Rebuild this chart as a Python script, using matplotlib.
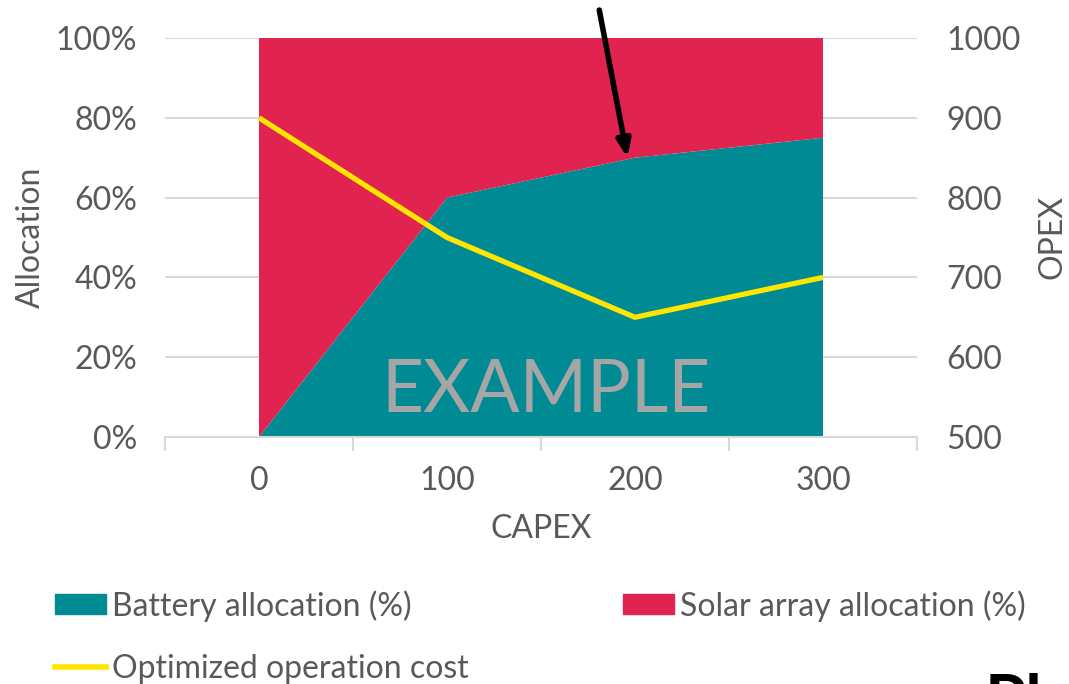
import matplotlib
matplotlib.use("Agg")
import matplotlib.pyplot as plt
from matplotlib.patches import Patch
from matplotlib.lines import Line2D

plt.rcParams['font.family'] = ['Lato', 'DejaVu Sans']

capex = [0, 100, 200, 300]
battery = [0, 60, 70, 75]
solar = [100 - b for b in battery]
opex = [900, 750, 650, 700]

teal = '#008A93'
crimson = '#E0234F'
yellow = '#FFE500'
grey_text = '#595959'
grid_col = '#D9D9D9'
fs = 23

fig = plt.figure(figsize=(10.69, 6.84), dpi=100)
ax = fig.add_axes([165 / 1069, 1 - 437 / 684, 752 / 1069, 399 / 684])
x = list(range(len(capex)))

ax.stackplot(x, battery, solar, colors=[teal, crimson], zorder=2)
ax.set_xlim(-0.5, len(capex) - 0.5)
ax.set_ylim(0, 100)
ax.set_yticks(range(0, 101, 20))
ax.set_yticklabels([f'{v}%' for v in range(0, 101, 20)])
ax.set_xticks(x)
ax.set_xticklabels([str(c) for c in capex])
ax.set_xticks([i - 0.5 for i in range(len(capex) + 1)], minor=True)
ax.tick_params(axis='x', which='major', length=0, pad=21, labelsize=fs, labelcolor=grey_text)
ax.tick_params(axis='x', which='minor', length=10, width=1.5, color=grid_col)
ax.tick_params(axis='y', length=0, pad=20, labelsize=fs, labelcolor=grey_text)
ax.grid(axis='y', color=grid_col, linewidth=1.5, zorder=0)
for s in ['top', 'left', 'right']:
    ax.spines[s].set_visible(False)
ax.spines['bottom'].set_color(grid_col)
ax.spines['bottom'].set_linewidth(1.5)
ax.set_xlabel('CAPEX', fontsize=fs, color=grey_text, labelpad=13)
ax.set_ylabel('Allocation', fontsize=fs, color=grey_text, labelpad=7)

ax2 = ax.twinx()
ax2.plot(x, opex, color=yellow, linewidth=3.8, solid_capstyle='butt', zorder=3)
ax2.set_ylim(500, 1000)
ax2.set_yticks(range(500, 1001, 100))
ax2.tick_params(axis='y', length=0, pad=21, labelsize=fs, labelcolor=grey_text)
for s in ['top', 'left', 'right', 'bottom']:
    ax2.spines[s].set_visible(False)
ax2.set_ylabel('OPEX', fontsize=fs, color=grey_text, rotation=90, labelpad=12)

fig.text(546 / 1069, 1 - 391 / 684, 'EXAMPLE', fontsize=52.5, color='#A6A6A6',
         ha='center', va='center', zorder=5)

ax.annotate('', xy=(1.96, 70), xytext=(1.81, 107), annotation_clip=False,
            arrowprops=dict(arrowstyle='-|>,head_width=0.4,head_length=1.0',
                            color='black', lw=4, shrinkA=0, shrinkB=0))

handles = [Patch(color=teal, label='Battery allocation (%)'),
           Line2D([], [], color=yellow, lw=4, label='Optimized operation cost'),
           Patch(color=crimson, label='Solar array allocation (%)')]
leg = fig.legend(handles=handles, ncol=2, loc='upper left',
                 bbox_to_anchor=(55 / 1069, 1 - 590 / 684), frameon=False,
                 fontsize=fs, labelcolor=grey_text, handlelength=1.6,
                 handleheight=0.6, handletextpad=0.2, columnspacing=4.8,
                 labelspacing=1.0, borderpad=0, borderaxespad=0)

# partially visible text clipped at the bottom edge
fig.text(985 / 1069, 1 - 723 / 684, 'Pl', fontsize=48, fontweight='bold',
         color='black', ha='left', va='baseline')

fig.savefig('out.png', dpi=100)
